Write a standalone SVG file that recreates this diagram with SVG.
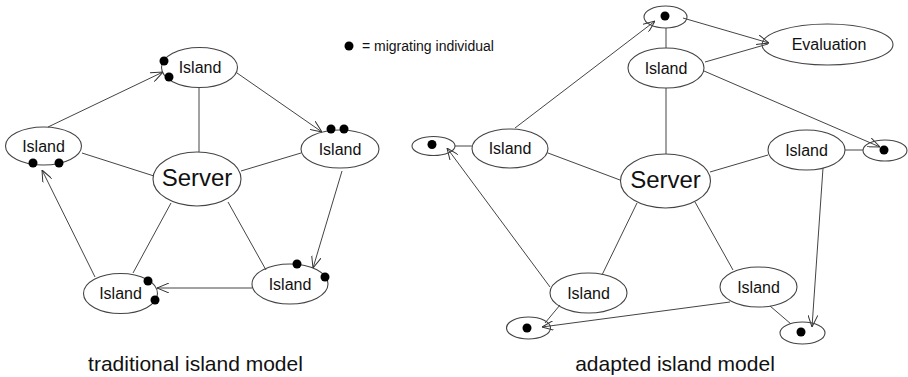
<svg xmlns="http://www.w3.org/2000/svg" width="908" height="377" viewBox="0 0 908 377">
  <defs>
    <marker id="head" viewBox="0 0 12 10" refX="12" refY="5" markerWidth="12" markerHeight="10" markerUnits="userSpaceOnUse" orient="auto">
      <path d="M0,0 L12,5 L0,10" fill="none" stroke="#333" stroke-width="1"/>
    </marker>
  </defs>
  <style>
    .node ellipse { fill: none; stroke: #444; stroke-width: 1.1; }
    .edge line { stroke: #444; stroke-width: 1; }
    .edge .arrow { marker-end: url(#head); }
    .lbl { font-family: "Liberation Sans", Arial, sans-serif; font-size: 16px; fill: #111; text-anchor: middle; }
    .big { font-size: 24px; }
    .dot { fill: #000; }
    .cap { font-family: "Liberation Sans", Arial, sans-serif; font-size: 21px; fill: #111; text-anchor: middle; }
    .legend { font-family: "Liberation Sans", Arial, sans-serif; font-size: 14px; fill: #111; }
  </style>
  <rect width="908" height="377" fill="#fff"/>

  <!-- traditional model: connectors -->
  <g id="edges-traditional" class="edge">
    <line x1="199" y1="88" x2="199" y2="152"/>
    <line x1="82" y1="153" x2="154" y2="176"/>
    <line x1="301" y1="153" x2="241" y2="171"/>
    <line x1="171" y1="203" x2="133" y2="273"/>
    <line x1="228" y1="202" x2="266" y2="270"/>
    <line class="arrow" x1="48" y1="127" x2="163" y2="72"/>
    <line class="arrow" x1="237" y1="73" x2="322" y2="132"/>
    <line class="arrow" x1="342" y1="171" x2="313" y2="268"/>
    <line class="arrow" x1="252" y1="288" x2="157" y2="288"/>
    <line class="arrow" x1="95" y1="277" x2="42" y2="170"/>
  </g>

  <!-- adapted model: connectors -->
  <g id="edges-adapted" class="edge">
    <line x1="666" y1="28" x2="666" y2="48"/>
    <line x1="666" y1="88" x2="666" y2="154"/>
    <line x1="548" y1="153" x2="620" y2="180"/>
    <line x1="768" y1="155" x2="710" y2="172"/>
    <line x1="845" y1="150" x2="863" y2="150"/>
    <line x1="455" y1="146" x2="472" y2="146"/>
    <line x1="637" y1="203" x2="602" y2="275"/>
    <line x1="695" y1="202" x2="733" y2="270"/>
    <line x1="770" y1="306" x2="791" y2="324"/>
    <line x1="560" y1="305" x2="545" y2="323"/>
    <line x1="705" y1="62" x2="768" y2="44"/>
    <line class="arrow" x1="515" y1="128" x2="655" y2="21"/>
    <line class="arrow" x1="683" y1="18" x2="769" y2="43"/>
    <line class="arrow" x1="704" y1="71" x2="880" y2="147"/>
    <line class="arrow" x1="823" y1="168" x2="812" y2="327"/>
    <line class="arrow" x1="730" y1="302" x2="542" y2="327"/>
    <line class="arrow" x1="550" y1="287" x2="447" y2="148"/>
  </g>

  <!-- traditional model: nodes -->
  <g id="t-server" class="node">
    <ellipse cx="197" cy="179" rx="44" ry="27"/>
    <text class="lbl big" x="197" y="186">Server</text>
  </g>
  <g id="t-island-top" class="node">
    <ellipse cx="199.5" cy="67.5" rx="38" ry="20"/>
    <text class="lbl" x="200" y="72.5">Island</text>
    <circle class="dot" cx="164" cy="61" r="4.5"/>
    <circle class="dot" cx="169" cy="77" r="4.5"/>
  </g>
  <g id="t-island-left" class="node">
    <ellipse cx="43.5" cy="146" rx="38" ry="19"/>
    <text class="lbl" x="43.5" y="151.5">Island</text>
    <circle class="dot" cx="33" cy="163" r="4.5"/>
    <circle class="dot" cx="59" cy="163" r="4.5"/>
  </g>
  <g id="t-island-right" class="node">
    <ellipse cx="340" cy="149" rx="39" ry="19"/>
    <text class="lbl" x="340" y="154.5">Island</text>
    <circle class="dot" cx="331" cy="129" r="4.5"/>
    <circle class="dot" cx="344" cy="129" r="4.5"/>
  </g>
  <g id="t-island-bottom-left" class="node">
    <ellipse cx="120.5" cy="293.5" rx="37" ry="20"/>
    <text class="lbl" x="120.5" y="299">Island</text>
    <circle class="dot" cx="148" cy="281" r="4.5"/>
    <circle class="dot" cx="155" cy="300" r="4.5"/>
  </g>
  <g id="t-island-bottom-right" class="node">
    <ellipse cx="290" cy="284" rx="38" ry="20"/>
    <text class="lbl" x="290" y="289.5">Island</text>
    <circle class="dot" cx="297" cy="264" r="4.5"/>
    <circle class="dot" cx="325" cy="277" r="4.5"/>
  </g>

  <!-- legend -->
  <g id="legend">
    <circle class="dot" cx="349" cy="46" r="4.5"/>
    <text class="legend" x="362" y="51">= migrating individual</text>
  </g>

  <!-- adapted model: nodes -->
  <g id="a-server" class="node">
    <ellipse cx="665.5" cy="181" rx="45" ry="27"/>
    <text class="lbl big" x="665.5" y="188">Server</text>
  </g>
  <g id="a-island-top" class="node">
    <ellipse cx="666" cy="68" rx="38" ry="20"/>
    <text class="lbl" x="666" y="73.5">Island</text>
  </g>
  <g id="a-island-left" class="node">
    <ellipse cx="510" cy="148.5" rx="38" ry="19.5"/>
    <text class="lbl" x="510" y="154">Island</text>
  </g>
  <g id="a-island-right" class="node">
    <ellipse cx="806.5" cy="150" rx="38.5" ry="20"/>
    <text class="lbl" x="806.5" y="155.5">Island</text>
  </g>
  <g id="a-island-bottom-left" class="node">
    <ellipse cx="588.5" cy="293" rx="38.5" ry="20"/>
    <text class="lbl" x="588.5" y="298.5">Island</text>
  </g>
  <g id="a-island-bottom-right" class="node">
    <ellipse cx="758.5" cy="287" rx="38.5" ry="20"/>
    <text class="lbl" x="758.5" y="292.5">Island</text>
  </g>
  <g id="a-evaluation" class="node">
    <ellipse cx="827.5" cy="44.5" rx="65.5" ry="20.5"/>
    <text class="lbl" x="829" y="50">Evaluation</text>
  </g>
  <g id="a-migrant-top" class="node">
    <ellipse cx="665.5" cy="17" rx="21.5" ry="11"/>
    <circle class="dot" cx="665" cy="16" r="4.5"/>
  </g>
  <g id="a-migrant-left" class="node">
    <ellipse cx="433.5" cy="146" rx="21.5" ry="9.5"/>
    <circle class="dot" cx="432" cy="144.5" r="4.5"/>
  </g>
  <g id="a-migrant-right" class="node">
    <ellipse cx="885" cy="150.5" rx="22" ry="10.5"/>
    <circle class="dot" cx="884" cy="150" r="4.5"/>
  </g>
  <g id="a-migrant-bottom-left" class="node">
    <ellipse cx="528.5" cy="328" rx="22" ry="11"/>
    <circle class="dot" cx="527" cy="328" r="4.5"/>
  </g>
  <g id="a-migrant-bottom-right" class="node">
    <ellipse cx="802.5" cy="333" rx="22.5" ry="11"/>
    <circle class="dot" cx="801" cy="332" r="4.5"/>
  </g>

  <!-- captions -->
  <text class="cap" x="195.5" y="371">traditional island model</text>
  <text class="cap" x="675" y="371">adapted island model</text>
</svg>
